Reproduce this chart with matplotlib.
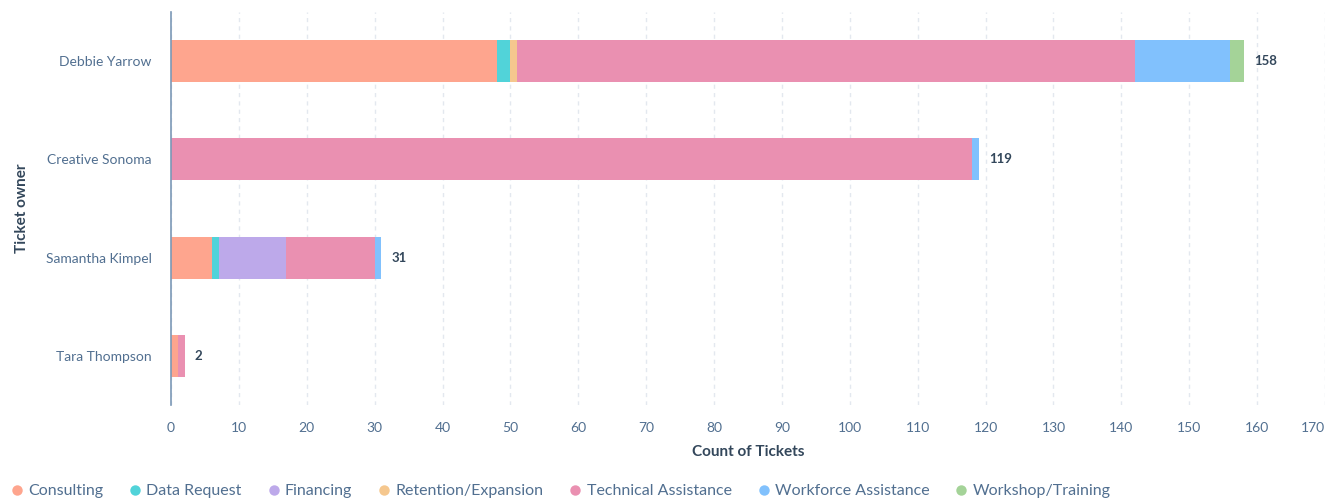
import matplotlib
matplotlib.use("Agg")
import matplotlib.pyplot as plt
from matplotlib.lines import Line2D
import numpy as np

owners = ["Debbie Yarrow", "Creative Sonoma", "Samantha Kimpel", "Tara Thompson"]
categories = ["Consulting", "Data Request", "Financing", "Retention/Expansion",
              "Technical Assistance", "Workforce Assistance", "Workshop/Training"]
consulting = [48, 0, 6, 1]
data_request = [2, 0, 1, 0]
financing = [0, 0, 10, 0]
retention = [1, 0, 0, 0]
technical = [91, 118, 13, 1]
workforce = [14, 1, 1, 0]
workshop = [2, 0, 0, 0]
series = [consulting, data_request, financing, retention, technical, workforce, workshop]
colors = ["#fea58e", "#51d3d9", "#bda9ea", "#f5c78e", "#ea90b1", "#81c1fd", "#a4d398"]
xticks = list(range(0, 171, 10))

plt.rcParams['font.family'] = ['Lato', 'DejaVu Sans']
txt = "#33475b"
tick_c = "#516f90"

fig = plt.figure(figsize=(13.32, 5.0), dpi=100)
ax = fig.add_axes([171/1332, 1-405/500, (1325-171)/1332, (405-12)/500])

y = np.arange(len(owners))
left = np.zeros(len(owners))
for vals, c in zip(series, colors):
    v = np.array(vals, dtype=float)
    ax.barh(y, v, left=left, height=0.43, color=c, edgecolor='none', zorder=3)
    left += v

for yi, tot in zip(y, left):
    ax.text(tot + 1.5, yi, f"{int(tot)}", va='center', ha='left', fontsize=9.5,
            fontweight='bold', color=txt)

ax.set_xlim(0, 170)
ax.set_ylim(len(owners) - 0.5, -0.5)
ax.set_yticks(y)
ax.set_yticklabels(owners, fontsize=10, color=tick_c)
ax.set_xticks(xticks)
ax.set_xticklabels([str(t) for t in xticks], fontsize=10, color=tick_c)
labels = ax.get_xticklabels()
labels[-1].set_horizontalalignment('right')
labels[-1].set_x(171)
ax.tick_params(axis='y', length=0, pad=14)
ax.tick_params(axis='x', length=0, pad=12)
ax.grid(axis='x', color='#e3e8ef', linestyle=(0, (3, 3)), linewidth=1, zorder=0)
for s in ['top', 'right', 'bottom']:
    ax.spines[s].set_visible(False)
ax.spines['left'].set_color('#7c98b6')
ax.spines['left'].set_linewidth(1.2)
ax.spines['left'].set_zorder(4)

ax.set_xlabel("Count of Tickets", fontsize=11, fontweight='bold', color=txt, labelpad=8)
ax.set_ylabel("Ticket owner", fontsize=11, fontweight='bold', color=txt, labelpad=12)

handles = [Line2D([0], [0], marker='o', linestyle='none', markersize=7.5,
                  markerfacecolor=c, markeredgecolor='none') for c in colors]
fig.legend(handles, categories, loc='lower left', bbox_to_anchor=(-0.004, -0.025),
           ncol=len(categories), frameon=False, fontsize=11.5, handletextpad=0.2,
           handlelength=1.0, columnspacing=1.5, labelcolor=tick_c)

fig.savefig("out.png", dpi=100)
